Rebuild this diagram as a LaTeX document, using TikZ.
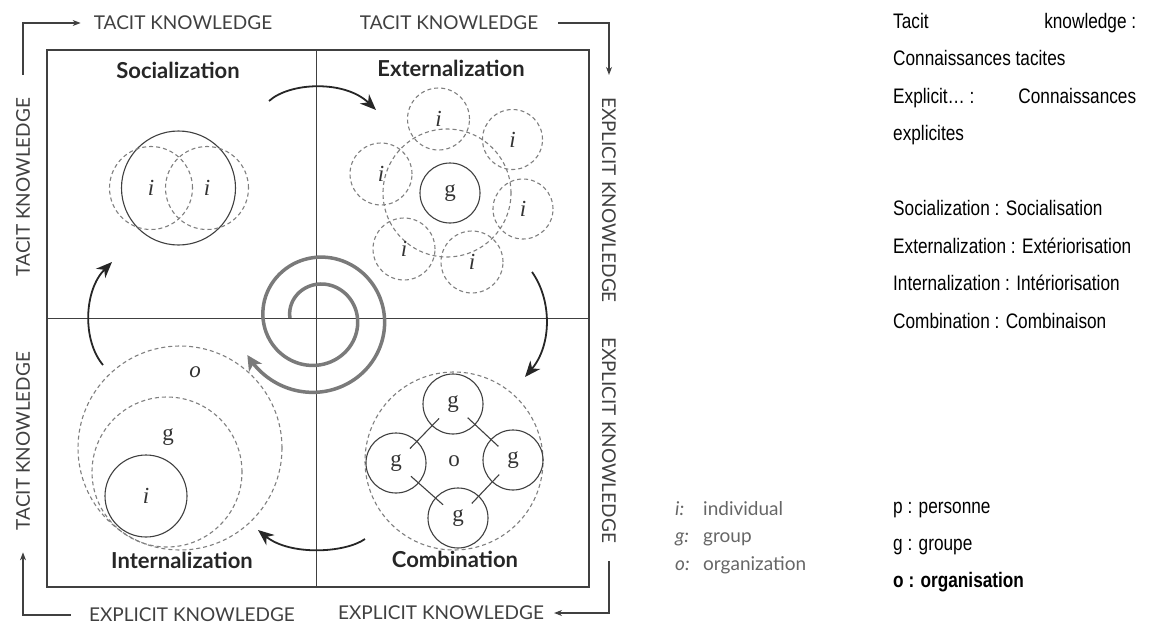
\documentclass[tikz,border=0pt]{standalone}
\usepackage{fontspec}
\usetikzlibrary{arrows.meta}
\newfontfamily\figfont{Lato}
\newfontfamily\letterfont{Liberation Serif}
\newfontfamily\frfont[FakeStretch=0.82]{Liberation Sans}
\definecolor{framegray}{HTML}{404040}
\definecolor{dashgray}{HTML}{7F7F7F}
\definecolor{spiralgray}{HTML}{7A7A7A}
\definecolor{keygray}{HTML}{666666}
\tikzset{
  axislabel/.style={font=\figfont\fontsize{19}{21}\selectfont, text=framegray, inner sep=0pt},
  quadtitle/.style={font=\figfont\bfseries\fontsize{22}{24}\selectfont, text=black!85, inner sep=0pt},
  solidring/.style={circle, draw=framegray, line width=1.1pt, inner sep=0pt, minimum size=#1},
  dashring/.style={circle, draw=dashgray, line width=1.1pt, dash pattern=on 4pt off 3pt, inner sep=0pt, minimum size=#1},
  letter/.style={font=\letterfont\fontsize{23}{25}\selectfont, text=black!80, inner sep=0pt},
  turnarrow/.style={line width=1.8pt, black!85, -{Stealth[length=16pt,width=13pt,inset=5pt]}},
  axisarrow/.style={line width=1.2pt, framegray, -{Stealth[length=8pt,width=6pt]}},
  note/.style={font=\frfont\fontsize{21}{24}\selectfont, anchor=base west, inner sep=0pt},
  keyitem/.style={font=\figfont\fontsize{19}{21}\selectfont, text=keygray, anchor=base west, inner sep=0pt},
}
\begin{document}
\begin{tikzpicture}[x=1pt, y=-1pt]
\useasboundingbox (0,0) rectangle (1151,624);

\draw[framegray, line width=1.2pt] (47,50) rectangle (589,587);
\draw[framegray, line width=1pt] (316,50) -- (316,587);
\draw[framegray, line width=1pt] (47,318) -- (589,318);

\node[axislabel] (tacittop1) at (183,23) {TACIT KNOWLEDGE};
\node[axislabel] (tacittop2) at (449,23) {TACIT KNOWLEDGE};
\node[axislabel, rotate=90] (tacitleft1) at (23,187) {TACIT KNOWLEDGE};
\node[axislabel, rotate=90] (tacitleft2) at (23,441) {TACIT KNOWLEDGE};
\node[axislabel, rotate=-90] (explright1) at (609,200) {EXPLICIT KNOWLEDGE};
\node[axislabel, rotate=-90] (explright2) at (609,440) {EXPLICIT KNOWLEDGE};
\node[axislabel] (explbot1) at (192,615) {EXPLICIT KNOWLEDGE};
\node[axislabel] (explbot2) at (441,613) {EXPLICIT KNOWLEDGE};

\draw[axisarrow] ([yshift=23pt]tacitleft1.east) |- ([xshift=-13pt]tacittop1.west);
\draw[axisarrow] ([xshift=20pt]tacittop2.east) -| ([yshift=22pt]explright1.west);
\draw[axisarrow] ([yshift=-18pt]explright2.east) |- ([xshift=10pt]explbot2.east);
\draw[axisarrow] ([xshift=-18pt]explbot1.west) -| ([yshift=-22pt]tacitleft2.west);

\node[quadtitle] (soctitle) at (178,70) {Socialization};
\node[quadtitle] (exttitle) at (451,68) {Externalization};
\node[quadtitle] (inttitle) at (182,560) {Internalization};
\node[quadtitle] (comtitle) at (455,559) {Combination};

\node[solidring=114pt] (socall) at (178.5,188) {};
\node[dashring=83pt, letter] (soci1) at (151,188) {\textit{i}};
\node[dashring=83pt, letter] (soci2) at (207,188) {\textit{i}};

\node[dashring=128pt] (extall) at (447,193) {};
\node[solidring=60pt, letter] (extg) at (450,193) {g};
\node[dashring=62pt, letter] (exti1) at (438.5,119) {\textit{i}};
\node[dashring=60pt, letter] (exti2) at (512.5,139.5) {\textit{i}};
\node[dashring=62pt, letter] (exti3) at (381,174) {\textit{i}};
\node[dashring=60pt, letter] (exti4) at (523,209) {\textit{i}};
\node[dashring=62pt, letter] (exti5) at (404,249) {\textit{i}};
\node[dashring=62pt, letter] (exti6) at (472,262) {\textit{i}};

\node[dashring=204pt] (into) at (180,448) {};
\node[dashring=150pt] (intg) at (167,472) {};
\node[solidring=82pt, letter] (inti) at (146,496) {\textit{i}};
\node[letter] (intolabel) at (195,372) {\textit{o}};
\node[letter] (intglabel) at (168,437) {g};

\node[dashring=178pt, letter] (como) at (454,461) {o};
\node[solidring=60pt, letter] (comg1) at (453,404) {g};
\node[solidring=60pt, letter] (comg2) at (513,460) {g};
\node[solidring=60pt, letter] (comg3) at (458,518) {g};
\node[solidring=60pt, letter] (comg4) at (396,463) {g};
\draw[framegray, line width=1.1pt, shorten <=20pt, shorten >=20pt] (comg1.center) -- (comg2.center);
\draw[framegray, line width=1.1pt, shorten <=20pt, shorten >=20pt] (comg2.center) -- (comg3.center);
\draw[framegray, line width=1.1pt, shorten <=20pt, shorten >=20pt] (comg3.center) -- (comg4.center);
\draw[framegray, line width=1.1pt, shorten <=20pt, shorten >=20pt] (comg4.center) -- (comg1.center);

\coordinate (turn1a) at (269,101);
\coordinate (turn1b) at (376,110);
\coordinate (turn2a) at (532,272);
\coordinate (turn2b) at (525,377);
\coordinate (turn3a) at (365,539);
\coordinate (turn3b) at (258,530);
\coordinate (turn4a) at (103,365);
\coordinate (turn4b) at (112,262);
\draw[turnarrow] (turn1a) .. controls (290,82) and (345,80) .. (turn1b);
\draw[turnarrow] (turn2a) .. controls (552,300) and (552,345) .. (turn2b);
\draw[turnarrow] (turn3a) .. controls (345,553) and (290,556) .. (turn3b);
\draw[turnarrow] (turn4a) .. controls (82,340) and (84,290) .. (turn4b);

\draw[spiralgray, line width=3.5pt, -{Stealth[length=15pt,width=15pt,inset=4pt]}]
  plot[domain=180:872, samples=160, smooth]
  ({317+(27+0.075*(\x-180))*cos(\x)}, {318+(27+0.075*(\x-180))*sin(\x)});

\node[keyitem] (keyi) at (675,515) {\textit{i:}};
\node[keyitem] (keyg) at (675,542) {\textit{g:}};
\node[keyitem] (keyo) at (675,570) {\textit{o:}};
\node[keyitem] (keyitext) at (703,515) {individual};
\node[keyitem] (keygtext) at (703,542) {group};
\node[keyitem] (keyotext) at (703,570) {organization};

\node[note] (note1) at (893,28) {\hbox to 243pt{Tacit\hfill knowledge~:}};
\node[note] (note2) at (893,65.5) {Connaissances tacites};
\node[note] (note3) at (893,103) {\hbox to 243pt{Explicit…~:\hfill Connaissances}};
\node[note] (note4) at (893,140.5) {explicites};
\node[note] (note5) at (893,215.5) {Socialization : Socialisation};
\node[note] (note6) at (893,253) {Externalization : Extériorisation};
\node[note] (note7) at (893,290.5) {Internalization : Intériorisation};
\node[note] (note8) at (893,328) {Combination : Combinaison};
\node[note] (note9) at (893,513) {p : personne};
\node[note] (note10) at (893,550) {g : groupe};
\node[note, font=\frfont\bfseries\fontsize{21}{24}\selectfont] (note11) at (893,587) {o : organisation};
\end{tikzpicture}
\end{document}
